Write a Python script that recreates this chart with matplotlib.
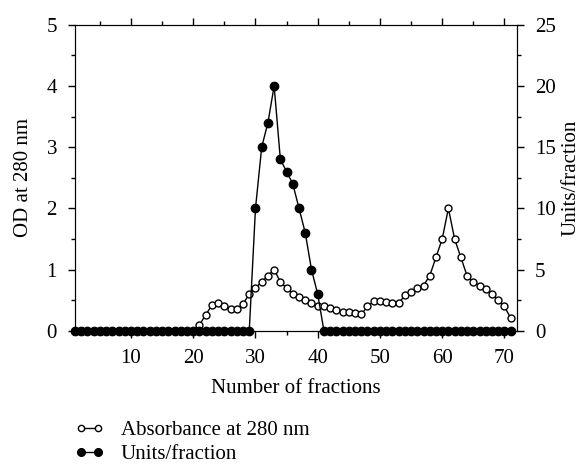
import numpy as np
import matplotlib
matplotlib.use("Agg")
import matplotlib.pyplot as plt
from matplotlib.ticker import MultipleLocator

plt.rcParams["font.family"] = ["Liberation Serif", "DejaVu Serif"]
plt.rcParams["font.size"] = 15

fractions = list(range(1, 72))
absorbance = [0] * 20 + [
    0.10, 0.26, 0.42, 0.45, 0.40, 0.35, 0.36, 0.44, 0.60, 0.70,
    0.80, 0.90, 1.00, 0.80, 0.70, 0.60, 0.55, 0.50, 0.45, 0.41,
    0.40, 0.37, 0.34, 0.31, 0.30, 0.29, 0.27, 0.40, 0.48, 0.48,
    0.47, 0.46, 0.45, 0.58, 0.64, 0.70, 0.74, 0.90, 1.20, 1.50,
    2.00, 1.50, 1.20, 0.90, 0.80, 0.74, 0.69, 0.60, 0.51, 0.40,
    0.21,
]
units = [0] * 29 + [10, 15, 17, 20, 14, 13, 12, 10, 8, 5, 3] + [0] * 31


def chart():
    fig = plt.figure(figsize=(5.86, 4.66), dpi=100)
    ax1 = fig.add_axes([0.128, 0.29, 0.754, 0.657])
    ax2 = ax1.twinx()

    l1, = ax1.plot(fractions, absorbance, color="black", lw=1, marker="o",
                   ms=5, mfc="white", mec="black", mew=1, clip_on=False,
                   label="Absorbance at 280 nm")
    l2, = ax2.plot(fractions, units, color="black", lw=1, marker="o",
                   ms=6, mfc="black", mec="black", clip_on=False,
                   label="Units/fraction")

    ax1.set_xlim(1, 72)
    ax1.set_ylim(0, 5)
    ax2.set_ylim(0, 25)
    ax1.xaxis.set_major_locator(MultipleLocator(10))
    ax1.xaxis.set_minor_locator(MultipleLocator(5))
    ax1.yaxis.set_major_locator(MultipleLocator(1))
    ax1.yaxis.set_minor_locator(MultipleLocator(0.5))
    ax2.yaxis.set_major_locator(MultipleLocator(5))
    ax2.yaxis.set_minor_locator(MultipleLocator(2.5))

    ax1.tick_params(which="both", direction="out", top=True, width=1)
    ax1.tick_params(which="major", length=5, pad=8)
    ax1.tick_params(which="minor", length=3)
    ax2.tick_params(which="both", direction="out", width=1)
    ax2.tick_params(which="major", length=5, pad=8)
    ax2.tick_params(which="minor", length=3)

    ax1.set_xlabel("Number of fractions", labelpad=8)
    ax1.set_ylabel("OD at 280 nm", labelpad=10)
    ax2.set_ylabel("Units/fraction")
    ax2.yaxis.set_label_coords(1.1, 0.5)

    leg = fig.legend(handles=[l1, l2], loc="upper left",
                     bbox_to_anchor=(0.128, 0.097),
                     frameon=False, numpoints=2, handlelength=1.4,
                     handletextpad=0.8, labelspacing=0.2,
                     borderaxespad=0, borderpad=0)
    leg.legend_handles[0].set_markersize(4.5)
    leg.legend_handles[1].set_markersize(5.5)
    plt.savefig("out.png", dpi=100)


def main():
    chart()


if __name__ == "__main__":
    main()
